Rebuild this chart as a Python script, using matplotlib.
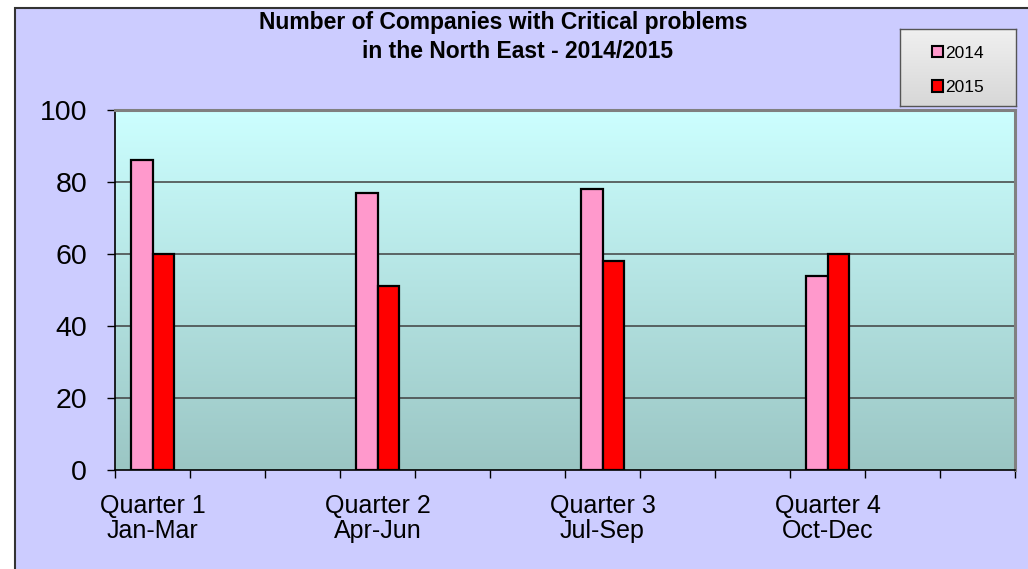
import numpy as np
import matplotlib.pyplot as plt
from matplotlib.patches import Rectangle, Patch

######################## - DATA - #############################

QUARTERS = ['Quarter 1\nJan-Mar', 'Quarter 2\nApr-Jun', 'Quarter 3\nJul-Sep', 'Quarter 4\nOct-Dec']
VALUES_2014 = [86, 77, 78, 54]
VALUES_2015 = [60, 51, 58, 60]
SERIES = ['2014', '2015']
Y_TICKS = [0, 20, 40, 60, 80, 100]
N_SLOTS = 12  # category slots on the x axis, quarters sit every third slot

W, H = 1028, 569


def px(x0, y0, x1, y1):
    """ pixel box (top-left origin) -> figure fraction rect """
    return [x0 / W, 1 - y1 / H, (x1 - x0) / W, (y1 - y0) / H]


def vgrad(top, bot, n=256):
    t = np.linspace(0, 1, n)[:, None, None]
    return np.array(top)[None, None, :] / 255 * (1 - t) + np.array(bot)[None, None, :] / 255 * t


def main():
    plt.rcParams['font.family'] = ['Liberation Sans', 'DejaVu Sans']
    fig = plt.figure(figsize=(W / 100, H / 100), dpi=100)
    fig.patch.set_facecolor('white')

    # lavender chart area with dark frame
    fig.patches.append(Rectangle((15 / W, -0.01), 1, 1.01 - 8 / H, transform=fig.transFigure,
                                 facecolor='#CCCCFF', edgecolor='#333333', linewidth=1.5, zorder=-5))

    ax = fig.add_axes(px(115, 110, 1015, 470))
    ax.set_xlim(0, N_SLOTS)
    ax.set_ylim(0, 100)

    # gradient plot background
    ax.imshow(vgrad([204, 255, 255], [155, 198, 196]), extent=[0, N_SLOTS, 0, 100],
              aspect='auto', zorder=0)

    for y in Y_TICKS[1:-1]:
        ax.axhline(y, color='#404040', linewidth=1.1, zorder=1)

    slots = np.arange(len(QUARTERS)) * 3
    bw = 0.29
    ax.bar(slots + 0.5 - bw / 2, VALUES_2014, width=bw, color='#FF99CC',
           edgecolor='black', linewidth=1.6, zorder=3)
    ax.bar(slots + 0.5 + bw / 2, VALUES_2015, width=bw, color='#FF0000',
           edgecolor='black', linewidth=1.6, zorder=3)

    # ticks
    ax.set_yticks(Y_TICKS)
    ax.set_yticklabels([str(v) for v in Y_TICKS], fontsize=20.5)
    ax.set_xticks(np.arange(N_SLOTS + 1))
    ax.set_xticklabels([])
    ax.set_xticks(slots + 0.5, minor=True)
    ax.set_xticklabels(QUARTERS, minor=True, fontsize=18, linespacing=1.05)
    ax.tick_params(axis='y', length=6, width=1, pad=14)
    ax.tick_params(axis='x', which='major', length=6, width=1, direction='out')
    ax.tick_params(axis='x', which='minor', length=0, pad=17)

    for s in ['left', 'bottom']:
        ax.spines[s].set_color('black')
        ax.spines[s].set_linewidth(1.2)
    for s in ['top', 'right']:
        ax.spines[s].set_color('#808080')
        ax.spines[s].set_linewidth(2.2)

    # title
    fig.text(503 / W, 1 - 22 / H, 'Number of Companies with Critical problems',
             ha='center', va='center', fontsize=16.5, fontweight='bold')
    fig.text(517 / W, 1 - 51 / H, 'in the North East - 2014/2015',
             ha='center', va='center', fontsize=16.5, fontweight='bold')

    # legend box
    lax = fig.add_axes(px(900, 29, 1016, 106))
    lax.imshow(vgrad([240, 240, 240], [215, 215, 215]), extent=[0, 1, 0, 1], aspect='auto')
    lax.set_xticks([])
    lax.set_yticks([])
    for s in lax.spines.values():
        s.set_color('#555555')
        s.set_linewidth(1)
    handles = [Patch(facecolor='#FF99CC', edgecolor='black', linewidth=1.5),
               Patch(facecolor='#FF0000', edgecolor='black', linewidth=1.5)]
    lax.legend(handles, SERIES, loc='center', bbox_to_anchor=(0.5, 0.46), frameon=False,
               fontsize=12.5, handlelength=0.6, handleheight=0.6, handletextpad=0.15,
               labelspacing=1.1)

    fig.savefig('out.png', dpi=100)


if __name__ == "__main__":
    main()
